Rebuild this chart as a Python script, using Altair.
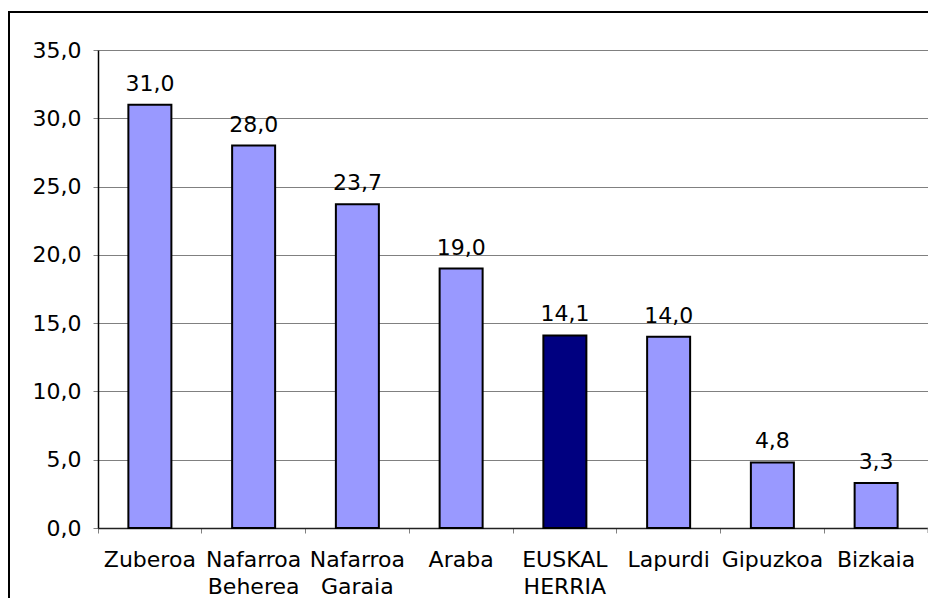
import altair as alt
import pandas as pd

regions = ["Zuberoa", "Nafarroa Beherea", "Nafarroa Garaia", "Araba",
           "EUSKAL HERRIA", "Lapurdi", "Gipuzkoa", "Bizkaia"]
values = [31.0, 28.0, 23.7, 19.0, 14.1, 14.0, 4.8, 3.3]
highlight = "EUSKAL HERRIA"
y_ticks = [0, 5, 10, 15, 20, 25, 30, 35]

df = pd.DataFrame({"region": regions, "value": values})
df["group"] = ["total" if r == highlight else "region" for r in regions]

W, H = 830, 478
FONT = "DejaVu Sans"
FS = 22

x_enc = alt.X("region:N", sort=regions,
              scale=alt.Scale(paddingInner=0, paddingOuter=0),
              axis=alt.Axis(title=None, labelAngle=0, bandPosition=0,
                            labelExpr="split(datum.label, ' ')",
                            labelLineHeight=27, labelFontSize=FS,
                            labelPadding=16, tickSize=5, tickColor="#808080",
                            labelOverlap=False,
                            domainColor="#222222", domainWidth=1.5,
                            labelColor="#000000", labelFont=FONT, grid=False))
y_enc = alt.Y("value:Q",
              scale=alt.Scale(domain=[0, 35], nice=False),
              axis=alt.Axis(title=None, values=y_ticks,
                            labelExpr="replace(format(datum.value, '.1f'), '.', ',')",
                            labelFontSize=FS, labelFont=FONT, labelColor="#000000",
                            labelPadding=12, tickSize=5, tickColor="#808080",
                            domainColor="#000000", domainWidth=1.5,
                            grid=True, gridColor="#808080", gridWidth=1))

base = alt.Chart(df)

bars = base.mark_bar(size=43, stroke="#000000", strokeWidth=2).encode(
    x=x_enc, y=y_enc,
    color=alt.Color("group:N",
                    scale=alt.Scale(domain=["region", "total"],
                                    range=["#9999FF", "#000080"]),
                    legend=None),
)

labels = base.mark_text(dy=-14, baseline="alphabetic", fontSize=FS,
                        font=FONT, color="#000000").transform_calculate(
    lbl="replace(format(datum.value, '.1f'), '.', ',')"
).encode(x=alt.X("region:N", sort=regions), y="value:Q", text="lbl:N")

deco = alt.Data(values=[{"k": 1}])
frame = alt.Chart(deco).mark_rect(filled=False, stroke="#000000",
                                  strokeWidth=2, clip=False).encode(
    x=alt.value(-89), x2=alt.value(W + 200),
    y=alt.value(-38), y2=alt.value(H + 300))
end_tick = alt.Chart(deco).mark_rule(color="#808080", strokeWidth=1).encode(
    x=alt.value(W), y=alt.value(H), y2=alt.value(H + 5))

chart = alt.layer(bars, labels, frame, end_tick).properties(
    width=W, height=H,
    autosize=alt.AutoSizeParams(type="none"),
    padding={"left": 90, "top": 42, "right": 0, "bottom": 70},
).configure_view(stroke="#808080", strokeWidth=1).configure(background="white")

chart.save("out.html", embed_options={"renderer": "svg", "actions": False})
